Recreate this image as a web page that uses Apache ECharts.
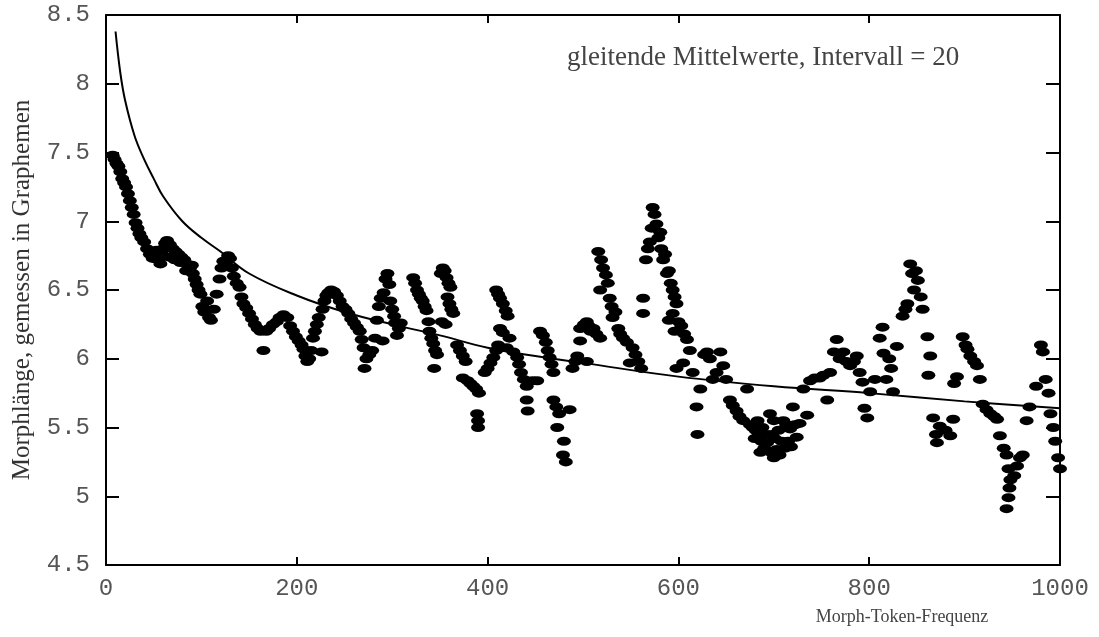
<!DOCTYPE html>
<html>
<head>
<meta charset="utf-8">
<script src="https://cdn.jsdelivr.net/npm/echarts@6/dist/echarts.min.js"></script>
<style>html,body{margin:0;padding:0;background:#fff}#c{width:1099px;height:637px}</style>
</head>
<body>
<div id="c"></div>
<script>
// Fitted curve
const curveX = [10, 15, 20, 30, 40, 50, 60, 80, 100, 120, 150, 200, 250, 300, 350, 400, 450, 500, 600, 700, 800, 900, 1000];
const curveY = [8.38, 8.08, 7.88, 7.62, 7.45, 7.31, 7.18, 7.0, 6.88, 6.78, 6.62, 6.46, 6.34, 6.25, 6.17, 6.08, 6.02, 5.97, 5.87, 5.80, 5.75, 5.69, 5.64];

// Moving averages (interval 20): [frequency, morph length]
const movingAvg = [
[7,7.48],[9,7.45],[11,7.42],[13,7.40],[15,7.36],[17,7.31],[19,7.28],[21,7.25],[23,7.20],[25,7.15],[27,7.10],[29,7.05],[31,6.99],[33,6.95],[35,6.91],[37,6.88],[40,6.85],[43,6.80],[46,6.76],[49,6.73],[51,6.76],[53,6.79],[55,6.72],[57,6.69],[58,6.78],[60,6.80],[62,6.84],[64,6.86],[66,6.74],[67,6.83],[70,6.80],[72,6.72],[73,6.78],[76,6.76],[78,6.70],[79,6.74],[82,6.72],[84,6.64],[85,6.69],[88,6.66],[90,6.68],[91,6.62],[93,6.58],[95,6.54],[97,6.50],[99,6.47],[101,6.38],[103,6.34],[106,6.42],[108,6.30],[110,6.28],[113,6.36],[116,6.47],[119,6.58],[121,6.66],[123,6.71],[126,6.70],[128,6.75],[130,6.73],[132,6.66],[134,6.60],[137,6.55],[140,6.52],[142,6.45],[144,6.40],[147,6.37],[150,6.33],[153,6.29],[156,6.25],[159,6.22],[162,6.20],[165,6.06],[168,6.20],[171,6.22],[175,6.25],[179,6.27],[182,6.30],[186,6.32],[190,6.30],[193,6.24],[196,6.20],[199,6.16],[202,6.13],[205,6.10],[207,6.07],[209,6.02],[211,5.98],[213,6.00],[215,6.06],[217,6.15],[219,6.20],[221,6.25],[223,6.30],[226,6.05],[227,6.36],[229,6.42],[231,6.46],[233,6.48],[236,6.50],[239,6.49],[242,6.46],[245,6.42],[248,6.38],[251,6.36],[254,6.33],[257,6.29],[260,6.26],[263,6.23],[266,6.20],[268,6.14],[270,6.08],[271,5.93],[273,6.00],[276,6.03],[279,6.06],[282,6.15],[284,6.28],[286,6.38],[288,6.44],[290,6.13],[291,6.48],[293,6.58],[295,6.62],[297,6.54],[298,6.42],[300,6.36],[302,6.31],[303,6.26],[305,6.17],[307,6.22],[309,6.26],
[322,6.59],[324,6.55],[326,6.50],[328,6.47],[330,6.44],[332,6.42],[334,6.38],[336,6.35],[338,6.27],[339,6.20],[341,6.15],[343,6.11],[345,6.06],[347,6.03],[344,5.93],[351,6.62],[353,6.66],[355,6.64],[357,6.59],[359,6.55],[361,6.52],[358,6.45],[360,6.40],[362,6.36],[364,6.33],[352,6.27],[356,6.25],[368,6.10],[371,6.06],[374,6.02],[377,5.98],[374,5.86],[379,5.84],[382,5.82],[385,5.80],[388,5.78],[391,5.75],[389,5.60],[390,5.55],[390,5.50],[397,5.90],[400,5.93],[403,5.97],[406,6.01],[409,6.06],[411,6.10],[409,6.50],[411,6.47],[413,6.44],[416,6.40],[419,6.35],[421,6.31],[413,6.22],[416,6.19],[423,6.15],[420,6.08],[427,6.05],[431,6.01],[433,5.96],[435,5.90],[438,5.85],[441,5.80],[441,5.70],[442,5.62],[447,5.84],[452,5.84],[455,6.20],[458,6.17],[461,6.12],[463,6.06],[465,6.01],[467,5.96],[469,5.90],[469,5.70],[472,5.65],[475,5.60],[473,5.50],[480,5.40],[479,5.30],[482,5.25],[486,5.63],[489,5.93],[492,5.98],[494,6.02],[497,6.13],[497,6.22],[501,6.25],[504,6.27],[506,6.24],[504,5.98],[508,6.20],[511,6.22],[514,6.18],[518,6.15],[516,6.78],[519,6.72],[521,6.66],[524,6.61],[526,6.55],[518,6.50],[528,6.44],[530,6.38],[531,6.30],[534,6.34],[537,6.22],[539,6.18],[542,6.15],[546,6.12],[549,5.97],[552,6.08],[555,6.03],[558,5.98],[561,5.93],[563,6.44],[563,6.33],
[566,6.72],[568,6.80],[570,6.85],[572,6.95],[573,7.10],[575,7.05],[577,6.98],[579,6.88],[581,6.92],[582,6.80],[584,6.72],[586,6.76],[588,6.62],[590,6.64],[592,6.55],[594,6.50],[596,6.45],[598,6.40],[590,6.28],[594,6.33],[596,6.20],[600,6.27],[603,6.24],[606,6.18],[609,6.14],[612,6.06],[598,5.93],[605,5.97],[615,5.90],[619,5.65],[620,5.45],[623,5.78],[627,6.03],[630,6.05],[633,6.00],[636,5.85],[640,5.90],[644,6.05],[647,5.95],[650,5.85],[654,5.70],[657,5.66],[661,5.62],[664,5.58],[668,5.55],[672,5.78],[675,5.52],[678,5.50],[680,5.42],[681,5.48],[683,5.55],[684,5.46],[687,5.40],[688,5.50],[690,5.35],[686,5.32],[692,5.45],[693,5.39],[696,5.60],[697,5.32],[698,5.45],[700,5.55],[700,5.28],[701,5.42],[703,5.34],[705,5.48],[706,5.30],[708,5.40],[710,5.55],[712,5.35],[713,5.52],[715,5.40],[717,5.49],[718,5.36],[720,5.65],[722,5.52],[724,5.43],[727,5.53],[731,5.78],[735,5.59],[738,5.84],[743,5.86],[748,5.86],[752,5.88],[756,5.70],[759,5.90],[763,6.05],[766,6.14],[769,6.00],[773,6.05],[776,5.98],[780,5.95],[784,5.98],[787,6.02],[790,5.90],[793,5.83],[795,5.64],[798,5.57],[801,5.76],[806,5.85],[811,6.15],[814,6.23],[815,6.04],[818,5.85],[821,6.00],[823,5.93],[825,5.76],[829,6.09],[835,6.31],[838,6.36],[840,6.40],[843,6.69],[845,6.62],[847,6.50],[849,6.64],[851,6.57],[854,6.45],[856,6.36],[861,6.16],[862,5.88],[864,6.02],[867,5.57],[870,5.45],[871,5.39],[874,5.51],[880,5.48],[885,5.44],[888,5.56],[889,5.82],[892,5.87],[898,6.16],[901,6.10],[903,6.07],[906,6.02],[910,5.98],[913,5.95],[916,5.85],[919,5.67],[923,5.63],[927,5.60],[931,5.58],[934,5.56],[937,5.44],[941,5.35],[944,5.30],[946,5.20],[948,5.12],[947,5.06],[946,4.99],[944,4.91],[952,5.15],[955,5.22],[958,5.28],[961,5.30],[965,5.55],[968,5.65],[975,5.80],[980,6.10],[982,6.05],[985,5.85],[988,5.75],[990,5.60],[993,5.50],[995,5.40],[998,5.28],[1000,5.20]
];

const xTicks = [0, 200, 400, 600, 800, 1000];
const yTicks = [4.5, 5, 5.5, 6, 6.5, 7, 7.5, 8, 8.5];
const yTitle = 'Morphlänge, gemessen in Graphemen';
const xTitle = 'Morph-Token-Frequenz';
const note = 'gleitende Mittelwerte, Intervall = 20';

const chart = echarts.init(document.getElementById('c'), null, {renderer: 'canvas'});
const monoLabel = {fontFamily: 'Liberation Mono', fontSize: 24, color: '#555'};
const axLine = {show: true, onZero: false, lineStyle: {color: '#000', width: 2}};
chart.setOption({
  animation: false,
  backgroundColor: '#fff',
  grid: {left: 106, right: 39, top: 15, bottom: 72, containLabel: false},
  xAxis: [
    {type: 'value', min: xTicks[0], max: xTicks[xTicks.length-1], interval: 200, position: 'bottom',
     axisLine: axLine, axisTick: {inside: true, length: 8, lineStyle: {color: '#000', width: 2}},
     axisLabel: Object.assign({margin: 12, formatter: v => String(v)}, monoLabel), splitLine: {show: false}},
    {type: 'value', min: xTicks[0], max: xTicks[xTicks.length-1], interval: 200, position: 'top',
     axisLine: axLine, axisTick: {inside: true, length: 8, lineStyle: {color: '#000', width: 2}},
     axisLabel: {show: false}, splitLine: {show: false}}
  ],
  yAxis: [
    {type: 'value', min: yTicks[0], max: yTicks[yTicks.length-1], interval: 0.5, position: 'left',
     axisLine: axLine, axisTick: {inside: true, length: 13, lineStyle: {color: '#000', width: 2}},
     axisLabel: Object.assign({margin: 16, formatter: v => String(v)}, monoLabel), splitLine: {show: false}},
    {type: 'value', min: yTicks[0], max: yTicks[yTicks.length-1], interval: 0.5, position: 'right',
     axisLine: axLine, axisTick: {inside: true, length: 14, lineStyle: {color: '#000', width: 2}},
     axisLabel: {show: false}, splitLine: {show: false}}
  ],
  series: [
    {type: 'scatter', data: movingAvg, symbol: 'circle', symbolSize: [14, 9],
     itemStyle: {color: '#000', opacity: 1}, xAxisIndex: 0, yAxisIndex: 0, z: 3},
    {type: 'line', data: curveX.map((x, i) => [x, curveY[i]]), smooth: 0.4, showSymbol: false,
     lineStyle: {color: '#000', width: 2}, xAxisIndex: 0, yAxisIndex: 0, z: 4}
  ],
  graphic: [
    {type: 'text', x: 22, y: 290, rotation: Math.PI / 2,
     style: {text: yTitle, fill: '#333', font: '25px "Liberation Serif"', textAlign: 'center', textVerticalAlign: 'middle'}},
    {type: 'text', x: 902, y: 617,
     style: {text: xTitle, fill: '#444', font: '18px "Liberation Serif"', textAlign: 'center', textVerticalAlign: 'middle'}},
    {type: 'text', x: 567, y: 58,
     style: {text: note, fill: '#444', font: '27px "Liberation Serif"', textAlign: 'left', textVerticalAlign: 'middle'}}
  ]
});
</script>
</body>
</html>
